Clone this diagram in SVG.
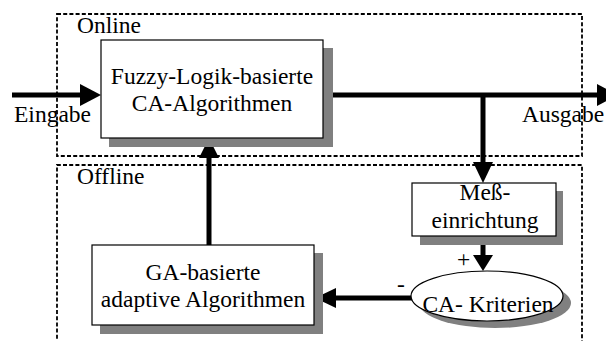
<svg xmlns="http://www.w3.org/2000/svg" width="606" height="341" viewBox="0 0 606 341">
  <style>
    .zone { fill: none; stroke: #000; stroke-width: 1.8; stroke-dasharray: 4 2.2; }
    .box { fill: #fff; stroke: #000; stroke-width: 1.2; }
    .shadow { fill: #808080; }
    .lbl { font-family: "Liberation Serif", "Times New Roman", serif; font-size: 23.5px; fill: #000; }
    .mid { text-anchor: middle; }
    .wire { fill: none; stroke: #000; stroke-width: 5; }
    .head { fill: #000; }
  </style>

  <!-- dashed zones -->
  <g id="zone-online">
    <rect class="zone" x="57" y="14" width="525" height="142"/>
    <text class="lbl" x="77" y="33">Online</text>
  </g>
  <g id="zone-offline">
    <path class="zone" d="M57,345 V165 H582 V345"/>
    <text class="lbl" x="77" y="184">Offline</text>
  </g>

  <!-- connectors -->
  <g id="connectors">
    <line class="wire" x1="12" y1="95" x2="84" y2="95"/>
    <polygon class="head" points="101,95 80,84 80,106"/>
    <line class="wire" x1="323" y1="95" x2="600" y2="95"/>
    <polygon class="head" points="618,95 597,84 597,106"/>
    <line class="wire" x1="483" y1="95" x2="483" y2="166"/>
    <polygon class="head" points="483,183 473,162 493,162"/>
    <line class="wire" x1="483" y1="236" x2="483" y2="258"/>
    <polygon class="head" points="483,271 473,255 493,255"/>
    <line class="wire" x1="412" y1="298" x2="332" y2="298"/>
    <polygon class="head" points="315,298 336,288 336,308"/>
    <line class="wire" x1="209" y1="245" x2="209" y2="155"/>
    <polygon class="head" points="209,138 199,158 219,158"/>
  </g>

  <!-- nodes -->
  <g id="fuzzy-ca">
    <rect class="shadow" x="109" y="48" width="224" height="99"/>
    <rect class="box" x="101" y="40" width="222" height="98"/>
    <text class="lbl mid" x="212" y="84">Fuzzy-Logik-basierte</text>
    <text class="lbl mid" x="212" y="111">CA-Algorithmen</text>
  </g>

  <g id="messeinrichtung">
    <rect class="shadow" x="420" y="191" width="143" height="54"/>
    <rect class="box" x="412" y="183" width="144" height="53"/>
    <text class="lbl mid" x="485" y="200">Meß-</text>
    <text class="lbl mid" x="485" y="228">einrichtung</text>
  </g>

  <g id="ca-kriterien">
    <ellipse class="shadow" cx="495" cy="303" rx="76" ry="25"/>
    <ellipse class="box" cx="487" cy="296" rx="76" ry="25"/>
    <text class="lbl mid" x="488" y="312">CA- Kriterien</text>
  </g>

  <g id="ga-adaptive">
    <rect class="shadow" x="100" y="253" width="223" height="81"/>
    <rect class="box" x="92" y="245" width="222" height="80"/>
    <text class="lbl mid" x="203" y="280">GA-basierte</text>
    <text class="lbl mid" x="203" y="307">adaptive Algorithmen</text>
  </g>

  <!-- edge labels -->
  <g id="edge-labels">
    <text class="lbl" x="14" y="122">Eingabe</text>
    <text class="lbl" x="522" y="122">Ausgabe</text>
    <text class="lbl" x="457" y="267">+</text>
    <text class="lbl" x="397" y="292">-</text>
  </g>
</svg>
